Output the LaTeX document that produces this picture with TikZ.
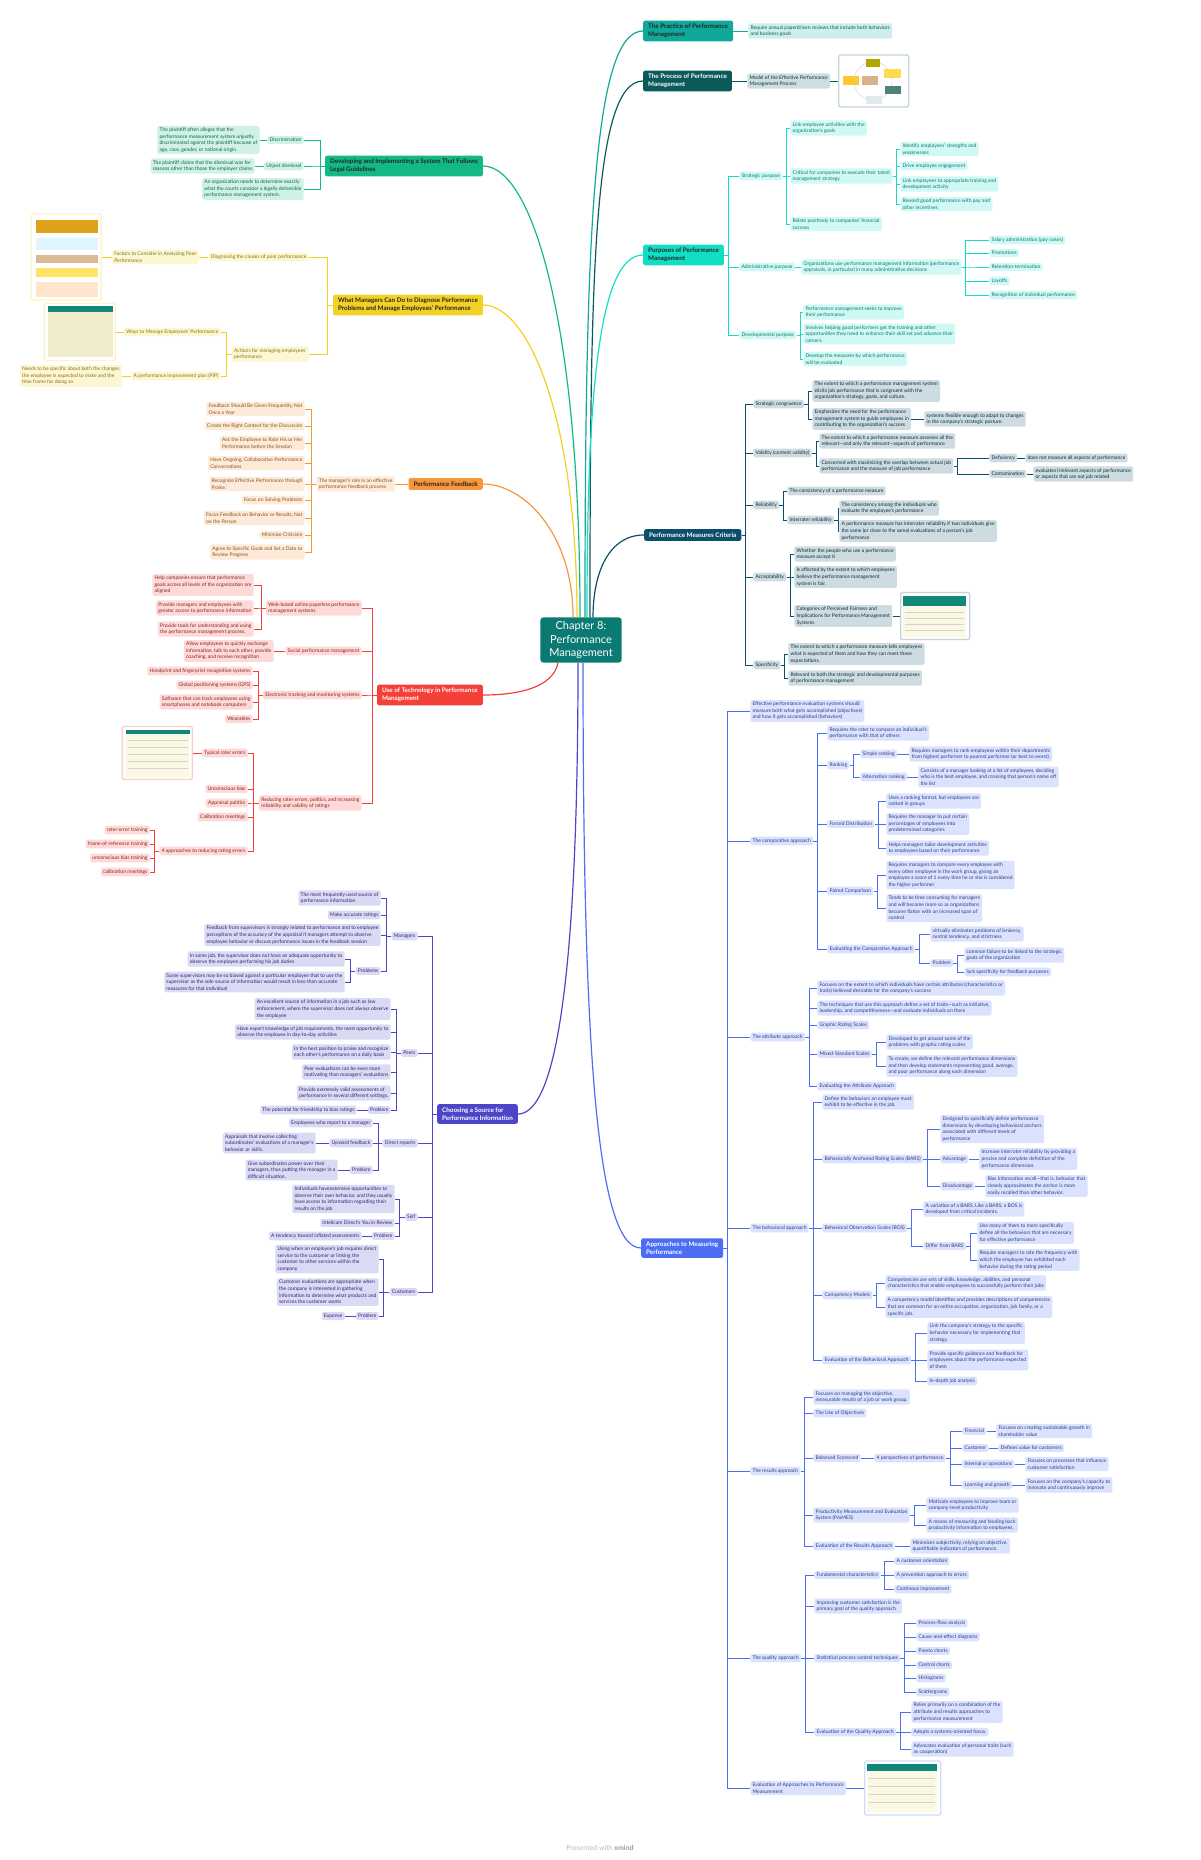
\documentclass[tikz,border=0pt]{standalone}
\usepackage{fontspec}
\setmainfont{Lato}
\usetikzlibrary{calc}

\definecolor{rootC}{HTML}{0B7A72}
\definecolor{pracC}{HTML}{0FA89A}
\definecolor{procC}{HTML}{0B5A5A}
\definecolor{purpC}{HTML}{12DEC6}
\definecolor{critC}{HTML}{0C4F6A}
\definecolor{apprC}{HTML}{4C6EF5}
\definecolor{legalC}{HTML}{12B886}
\definecolor{diagC}{HTML}{F2D024}
\definecolor{fbC}{HTML}{F7963A}
\definecolor{techC}{HTML}{F5403A}
\definecolor{srcC}{HTML}{4C45C8}
\definecolor{hdrC}{HTML}{11877A}
\definecolor{creamC}{HTML}{FBF8E4}

\newcommand{\leaffont}{\fontsize{5}{6.6}\selectfont}
\newcommand{\topicfont}{\fontsize{6.3}{7.8}\selectfont\bfseries}

\begin{document}
\begin{tikzpicture}[x=1pt, y=-1pt,
    root/.style={fill=rootC, text=white, rounded corners=3pt, font=\fontsize{11}{13.5}\selectfont, align=center, inner xsep=9pt, inner ysep=4pt},
    topic/.style={fill=#1, rounded corners=2pt, font=\topicfont, align=left, inner xsep=5pt, inner ysep=3.5pt},
    leaf/.style={fill=#1!20, text=#1!55!black, rounded corners=1.5pt, font=\leaffont, align=left, inner xsep=2.2pt, inner ysep=2pt},
    snap/.style={draw=#1!25, line width=1.4pt, fill=white, rounded corners=1.5pt, inner sep=0pt},
    limb/.style={line width=1.2pt, draw=#1}]
  \useasboundingbox (0,0) rectangle (1200,1860);

  % Central topic
  \node[root] (root) at (581,640) {Chapter 8:\\Performance\\Management};

  % Main topics on the right
  \begin{scope}[every node/.append style={anchor=west}]
    \node[topic=pracC, text=black!85] (prac) at (643,31) {The Practice of Performance\\Management};
    \node[topic=procC, text=white] (proc) at (643,81) {The Process of Performance\\Management};
    \node[topic=purpC, text=black!85] (purp) at (643,255) {Purposes of Performance\\Management};
    \node[topic=critC, text=white] (crit) at (644,535) {Performance Measures Criteria};
    \node[topic=apprC, text=white] (appr) at (641,1248) {Approaches to Measuring\\Performance};
  \end{scope}

  % Main topics on the left
  \begin{scope}[every node/.append style={anchor=east}]
    \node[topic=legalC, text=black!85] (legal) at (483,166) {Developing and Implementing a System That Follows\\Legal Guidelines};
    \node[topic=diagC, text=black!85] (diag) at (483,305) {What Managers Can Do to Diagnose Performance\\Problems and Manage Employees' Performance};
    \node[topic=fbC, text=black!85] (fb) at (483,484) {Performance Feedback};
    \node[topic=techC, text=white] (tech) at (483,695) {Use of Technology in Performance\\Management};
    \node[topic=srcC, text=white] (src) at (518,1114) {Choosing a Source for\\Performance Information};
  \end{scope}

  % Curves from the central topic
  \draw[limb=pracC] ($(root.north)+(4,0)$) .. controls +(0,-380) and +(-50,0) .. (prac.west);
  \draw[limb=procC] ($(root.north)+(9,0)$) .. controls +(0,-340) and +(-50,0) .. (proc.west);
  \draw[limb=purpC] ($(root.north)+(6,0)$) .. controls +(0,-220) and +(-45,0) .. (purp.west);
  \draw[limb=critC] ($(root.north)+(12,0)$) .. controls +(0,-45) and +(-35,0) .. (crit.west);
  \draw[limb=apprC] ($(root.south)+(2,0)$) .. controls +(0,380) and +(-45,0) .. (appr.west);
  \draw[limb=legalC] ($(root.north)+(-1,0)$) .. controls +(0,-290) and +(50,0) .. (legal.east);
  \draw[limb=diagC] ($(root.north)+(-4,0)$) .. controls +(0,-200) and +(45,0) .. (diag.east);
  \draw[limb=fbC] ($(root.north)+(-8,0)$) .. controls +(0,-85) and +(40,0) .. (fb.east);
  \draw[limb=techC] ($(root.south)+(-23,0)$) .. controls +(-5,25) and +(35,0) .. (tech.east);
  \draw[limb=srcC] ($(root.south)+(-3,0)$) .. controls +(0,300) and +(40,0) .. (src.east);

  % Practice and process
  \begin{scope}[color=pracC, line width=0.8pt, every node/.append style={anchor=west}]
    \node[leaf=pracC] (pr1) at (748,31) {Require annual paperdriven reviews that include both behaviors\\and business goals};
    \draw (prac.east) -- (pr1.west);
  \end{scope}
  \begin{scope}[color=procC, line width=0.8pt, every node/.append style={anchor=west}]
    \node[leaf=procC] (ps1) at (747,81) {Model of the Effective Performance\\Management Process};
    \node[snap=procC, minimum width=70pt, minimum height=52pt] (psimg) at (838,81) {};
    \draw (proc.east) -- (ps1.west);
    \draw (ps1.east) -- (psimg.west);
  \end{scope}
  % model picture
  \draw[gray!35, line width=0.4pt] (873,81) circle[radius=19pt];
  \fill[olive!70!yellow] (866,59) rectangle (880,67);
  \fill[orange!40!yellow!70] (884,69) rectangle (901,78);
  \fill[hdrC!45!gray] (885,86) rectangle (901,94);
  \fill[procC!12] (866,96) rectangle (882,104);
  \fill[orange!55!yellow!80] (843,76) rectangle (859,85);
  \fill[brown!60] (862,76) rectangle (878,85);

  % Purposes of performance management
  \begin{scope}[color=purpC, line width=0.8pt, every node/.append style={anchor=west}]
    \node[leaf=purpC] (pu1) at (739,176) {Strategic purpose};
    \node[leaf=purpC] (pu11) at (790,128) {Link employee activities with the\\organization's goals};
    \node[leaf=purpC] (pu12) at (790,176) {Critical for companies to execute their talent\\management strategy};
    \node[leaf=purpC] (pu121) at (900,149) {Identify employees' strengths and\\weaknesses};
    \node[leaf=purpC] (pu122) at (900,166) {Drive employee engagement};
    \node[leaf=purpC] (pu123) at (900,184) {Link employees to appropriate training and\\development activity};
    \node[leaf=purpC] (pu124) at (900,204) {Reward good performance with pay and\\other incentives};
    \node[leaf=purpC] (pu13) at (790,224) {Relate positively to companies' financial\\success};
    \node[leaf=purpC] (pu2) at (739,267) {Administrative purpose};
    \node[leaf=purpC] (pu21) at (801,267) {Organizations use performance management information (performance\\appraisals, in particular) in many administrative decisions};
    \foreach \y/\t [count=\i] in {240/Salary administration (pay raises), 253/Promotions, 267/Retention-termination, 281/Layoffs, 295/Recognition of individual performance}
      \node[leaf=purpC] (adm-\i) at (989,\y) {\t};
    \node[leaf=purpC] (pu3) at (739,335) {Developmental purpose};
    \node[leaf=purpC] (pu31) at (803,312) {Performance management seeks to improve\\their performance};
    \node[leaf=purpC] (pu32) at (803,334) {Involves helping good performers get the training and other\\opportunities they need to enhance their skill set and advance their\\careers.};
    \node[leaf=purpC] (pu33) at (803,359) {Develop the measures by which performance\\will be evaluated};

    \foreach \c in {pu1,pu2,pu3} \draw (purp.east) -- ++(4,0) |- (\c.west);
    \foreach \c in {pu11,pu12,pu13} \draw (pu1.east) -- ++(4,0) |- (\c.west);
    \foreach \c in {pu121,pu122,pu123,pu124} \draw (pu12.east) -- ++(4,0) |- (\c.west);
    \draw (pu2.east) -- (pu21.west);
    \foreach \i in {1,...,5} \draw (pu21.east) -- ++(4,0) |- (adm-\i.west);
    \foreach \c in {pu31,pu32,pu33} \draw (pu3.east) -- ++(4,0) |- (\c.west);
  \end{scope}

  % Performance measures criteria
  \begin{scope}[color=critC, line width=0.8pt, every node/.append style={anchor=west}]
    \node[leaf=critC] (cr1) at (753,404) {Strategic congruence};
    \node[leaf=critC] (cr11) at (812,391) {The extent to which a performance management system\\elicits job performance that is congruent with the\\organization's strategy, goals, and culture.};
    \node[leaf=critC] (cr12) at (812,419) {Emphasizes the need for the performance\\management system to guide employees in\\contributing to the organization's success};
    \node[leaf=critC] (cr121) at (924,419) {systems flexible enough to adapt to changes\\in the company's strategic posture.};
    \node[leaf=critC] (cr2) at (753,453) {Validity (content validity)};
    \node[leaf=critC] (cr21) at (819,441) {The extent to which a performance measure assesses all the\\relevant---and only the relevant---aspects of performance};
    \node[leaf=critC] (cr22) at (819,466) {Concerned with maximizing the overlap between actual job\\performance and the measure of job performance};
    \node[leaf=critC] (cr221) at (989,458) {Deficiency};
    \node[leaf=critC] (cr2211) at (1025,458) {does not measure all aspects of performance};
    \node[leaf=critC] (cr222) at (989,474) {Contamination};
    \node[leaf=critC] (cr2221) at (1033,474) {evaluates irrelevant aspects of performance\\or aspects that are not job related};
    \node[leaf=critC] (cr3) at (753,505) {Reliability};
    \node[leaf=critC] (cr31) at (787,491) {The consistency of a performance measure};
    \node[leaf=critC] (cr32) at (787,520) {Interrater reliability};
    \node[leaf=critC] (cr321) at (839,508) {The consistency among the individuals who\\evaluate the employee's performance};
    \node[leaf=critC] (cr322) at (839,531) {A performance measure has interrater reliability if two individuals give\\the same (or close to the same) evaluations of a person's job\\performance};
    \node[leaf=critC] (cr4) at (753,577) {Acceptability};
    \node[leaf=critC] (cr41) at (794,554) {Whether the people who use a performance\\measure accept it};
    \node[leaf=critC] (cr42) at (794,577) {Is affected by the extent to which employees\\believe the performance management\\system is fair.};
    \node[leaf=critC] (cr43) at (794,616) {Categories of Perceived Fairness and\\Implications for Performance Management\\Systems};
    \node[snap=critC, minimum width=69pt, minimum height=47pt] (crimg) at (900,616) {};
    \node[leaf=critC] (cr5) at (753,665) {Specificity};
    \node[leaf=critC] (cr51) at (788,654) {The extent to which a performance measure tells employees\\what is expected of them and how they can meet these\\expectations.};
    \node[leaf=critC] (cr52) at (788,678) {Relevant to both the strategic and developmental purposes\\of performance management};

    \foreach \c in {cr1,cr2,cr3,cr4,cr5} \draw (crit.east) -- ++(4,0) |- (\c.west);
    \foreach \c in {cr11,cr12} \draw (cr1.east) -- ++(4,0) |- (\c.west);
    \draw (cr12.east) -- (cr121.west);
    \foreach \c in {cr21,cr22} \draw (cr2.east) -- ++(4,0) |- (\c.west);
    \foreach \c in {cr221,cr222} \draw (cr22.east) -- ++(4,0) |- (\c.west);
    \draw (cr221.east) -- (cr2211.west);
    \draw (cr222.east) -- (cr2221.west);
    \foreach \c in {cr31,cr32} \draw (cr3.east) -- ++(4,0) |- (\c.west);
    \foreach \c in {cr321,cr322} \draw (cr32.east) -- ++(4,0) |- (\c.west);
    \foreach \c in {cr41,cr42,cr43} \draw (cr4.east) -- ++(4,0) |- (\c.west);
    \draw (cr43.east) -- (crimg.west);
    \foreach \c in {cr51,cr52} \draw (cr5.east) -- ++(4,0) |- (\c.west);
  \end{scope}
  % fairness table picture
  \fill[hdrC] (903,596) rectangle (966,606);
  \fill[creamC] (903,606) rectangle (966,637);
  \foreach \y in {612,618,624,630} \draw[gray!35, line width=0.3pt] (905,\y) -- (964,\y);

  % Approaches to measuring performance
  \begin{scope}[color=apprC, line width=0.8pt, every node/.append style={anchor=west}]
    \node[leaf=apprC] (ap1) at (750,711) {Effective performance evaluation systems should\\measure both what gets accomplished (objectives)\\and how it gets accomplished (behaviors)};
    % comparative approach
    \node[leaf=apprC] (ap2) at (750,841) {The comparative approach};
    \node[leaf=apprC] (ap21) at (827,733) {Requires the rater to compare an individual's\\performance with that of others};
    \node[leaf=apprC] (ap22) at (827,765) {Ranking};
    \node[leaf=apprC] (ap221) at (860,754) {Simple ranking};
    \node[leaf=apprC] (ap2211) at (909,754) {Requires managers to rank employees within their departments\\from highest performer to poorest performer (or best to worst)};
    \node[leaf=apprC] (ap222) at (860,777) {Alternation ranking};
    \node[leaf=apprC] (ap2221) at (918,777) {Consists of a manager looking at a list of employees, deciding\\who is the best employee, and crossing that person's name off\\the list};
    \node[leaf=apprC] (ap23) at (827,824) {Forced Distribution};
    \node[leaf=apprC] (ap231) at (886,801) {Uses a ranking format, but employees are\\ranked in groups};
    \node[leaf=apprC] (ap232) at (886,824) {Requires the manager to put certain\\percentages of employees into\\predetermined categories};
    \node[leaf=apprC] (ap233) at (886,848) {Helps managers tailor development activities\\to employees based on their performance};
    \node[leaf=apprC] (ap24) at (827,891) {Paired Comparison};
    \node[leaf=apprC] (ap241) at (886,875) {Requires managers to compare every employee with\\every other employee in the work group, giving an\\employee a score of 1 every time he or she is considered\\the higher performer};
    \node[leaf=apprC] (ap242) at (886,908) {Tends to be time consuming for managers\\and will become more so as organizations\\become flatter with an increased span of\\control};
    \node[leaf=apprC] (ap25) at (827,949) {Evaluating the Comparative Approach};
    \node[leaf=apprC] (ap251) at (930,934) {virtually eliminates problems of leniency,\\central tendency, and strictness};
    \node[leaf=apprC] (ap252) at (930,963) {Problem};
    \node[leaf=apprC] (ap2521) at (964,955) {common failure to be linked to the strategic\\goals of the organization};
    \node[leaf=apprC] (ap2522) at (964,972) {lack specificity for feedback purposes};
    % attribute approach
    \node[leaf=apprC] (ap3) at (750,1037) {The attribute approach};
    \node[leaf=apprC] (ap31) at (817,988) {Focuses on the extent to which individuals have certain attributes (characteristics or\\traits) believed desirable for the company's success};
    \node[leaf=apprC] (ap32) at (817,1008) {The techniques that use this approach define a set of traits---such as initiative,\\leadership, and competitiveness---and evaluate individuals on them};
    \node[leaf=apprC] (ap33) at (817,1025) {Graphic Rating Scales};
    \node[leaf=apprC] (ap34) at (817,1054) {Mixed-Standard Scales};
    \node[leaf=apprC] (ap341) at (886,1042) {Developed to get around some of the\\problems with graphic rating scales};
    \node[leaf=apprC] (ap342) at (886,1066) {To create, we define the relevant performance dimensions\\and then develop statements representing good, average,\\and poor performance along each dimension};
    \node[leaf=apprC] (ap35) at (817,1086) {Evaluating the Attribute Approach};
    % behavioral approach
    \node[leaf=apprC] (ap4) at (750,1228) {The behavioral approach};
    \node[leaf=apprC] (ap41) at (822,1102) {Define the behaviors an employee must\\exhibit to be effective in the job.};
    \node[leaf=apprC] (ap42) at (822,1159) {Behaviorally Anchored Rating Scales (BARS)};
    \node[leaf=apprC] (ap421) at (940,1129) {Designed to specifically define performance\\dimensions by developing behavioral anchors\\associated with different levels of\\performance};
    \node[leaf=apprC] (ap422) at (940,1159) {Advantage};
    \node[leaf=apprC] (ap4221) at (979,1159) {Increase interrater reliability by providing a\\precise and complete definition of the\\performance dimension.};
    \node[leaf=apprC] (ap423) at (940,1186) {Disadvantage};
    \node[leaf=apprC] (ap4231) at (985,1186) {Bias information recall---that is, behavior that\\closely approximates the anchor is more\\easily recalled than other behavior.};
    \node[leaf=apprC] (ap43) at (822,1228) {Behavioral Observation Scales (BOS)};
    \node[leaf=apprC] (ap431) at (923,1209) {A variation of a BARS. Like a BARS, a BOS is\\developed from critical incidents.};
    \node[leaf=apprC] (ap432) at (923,1246) {Differ from BARS};
    \node[leaf=apprC] (ap4321) at (977,1233) {Use many of them to more specifically\\define all the behaviors that are necessary\\for effective performance};
    \node[leaf=apprC] (ap4322) at (977,1260) {Require managers to rate the frequency with\\which the employee has exhibited each\\behavior during the rating period};
    \node[leaf=apprC] (ap44) at (822,1295) {Competency Models};
    \node[leaf=apprC] (ap441) at (885,1283) {Competencies are sets of skills, knowledge, abilities, and personal\\characteristics that enable employees to successfully perform their jobs};
    \node[leaf=apprC] (ap442) at (885,1307) {A competency model identifies and provides descriptions of competencies\\that are common for an entire occupation, organization, job family, or a\\specific job.};
    \node[leaf=apprC] (ap45) at (822,1360) {Evaluation of the Behavioral Approach};
    \node[leaf=apprC] (ap451) at (927,1333) {Link the company's strategy to the specific\\behavior necessary for implementing that\\strategy};
    \node[leaf=apprC] (ap452) at (927,1360) {Provide specific guidance and feedback for\\employees about the performance expected\\of them};
    \node[leaf=apprC] (ap453) at (927,1381) {In-depth job analysis};
    % results approach
    \node[leaf=apprC] (ap5) at (750,1471) {The results approach};
    \node[leaf=apprC] (ap51) at (813,1397) {Focuses on managing the objective,\\measurable results of a job or work group.};
    \node[leaf=apprC] (ap52) at (813,1413) {The Use of Objectives};
    \node[leaf=apprC] (ap53) at (813,1458) {Balanced Scorecard};
    \node[leaf=apprC] (ap531) at (874,1458) {4 perspectives of performance};
    \node[leaf=apprC] (bsc-1) at (962,1431) {Financial};
    \node[leaf=apprC] (bsc-2) at (962,1448) {Customer};
    \node[leaf=apprC] (bsc-3) at (962,1464) {Internal or operations};
    \node[leaf=apprC] (bsc-4) at (962,1485) {Learning and growth};
    \node[leaf=apprC] (bsd-1) at (996,1431) {Focuses on creating sustainable growth in\\shareholder value};
    \node[leaf=apprC] (bsd-2) at (998,1448) {Defines value for customers};
    \node[leaf=apprC] (bsd-3) at (1025,1464) {Focuses on processes that influence\\customer satisfaction};
    \node[leaf=apprC] (bsd-4) at (1025,1485) {Focuses on the company's capacity to\\innovate and continuously improve};
    \node[leaf=apprC] (ap54) at (813,1515) {Productivity Measurement and Evaluation\\System (ProMES)};
    \node[leaf=apprC] (ap541) at (926,1505) {Motivate employees to improve team or\\company-level productivity};
    \node[leaf=apprC] (ap542) at (926,1525) {A means of measuring and feeding back\\productivity information to employees.};
    \node[leaf=apprC] (ap55) at (813,1546) {Evaluation of the Results Approach};
    \node[leaf=apprC] (ap551) at (910,1546) {Minimizes subjectivity, relying on objective,\\quantifiable indicators of performance.};
    % quality approach
    \node[leaf=apprC] (ap6) at (750,1658) {The quality approach};
    \node[leaf=apprC] (ap61) at (814,1575) {Fundamental characteristics};
    \foreach \y/\t [count=\i] in {1561/A customer orientation, 1575/A prevention approach to errors, 1589/Continous improvement}
      \node[leaf=apprC] (fund-\i) at (894,\y) {\t};
    \node[leaf=apprC] (ap62) at (814,1606) {Improving customer satisfaction is the\\primary goal of the quality approach};
    \node[leaf=apprC] (ap63) at (814,1658) {Statistical process control techniques};
    \foreach \y/\t [count=\i] in {1623/Process-flow analysis, 1637/Cause-and-effect diagrams, 1651/Pareto charts, 1665/Control charts, 1678/Histograms, 1692/Scattergrams}
      \node[leaf=apprC] (spc-\i) at (916,\y) {\t};
    \node[leaf=apprC] (ap64) at (814,1732) {Evaluation of the Quality Approach};
    \node[leaf=apprC] (ap641) at (911,1712) {Relies primarily on a combination of the\\attribute and results approaches to\\performance measurement};
    \node[leaf=apprC] (ap642) at (911,1732) {Adopts a systems-oriented focus.};
    \node[leaf=apprC] (ap643) at (911,1749) {Advocates evaluation of personal traits (such\\as cooperation)};
    \node[leaf=apprC] (ap7) at (750,1788) {Evaluation of Approaches to Performance\\Measurement};
    \node[snap=apprC, minimum width=76pt, minimum height=54pt] (apimg) at (864,1788) {};

    \foreach \c in {ap1,ap2,ap3,ap4,ap5,ap6,ap7} \draw (appr.east) -- ++(4,0) |- (\c.west);
    \foreach \c in {ap21,ap22,ap23,ap24,ap25} \draw (ap2.east) -- ++(4,0) |- (\c.west);
    \foreach \c in {ap221,ap222} \draw (ap22.east) -- ++(4,0) |- (\c.west);
    \draw (ap221.east) -- (ap2211.west);
    \draw (ap222.east) -- (ap2221.west);
    \foreach \c in {ap231,ap232,ap233} \draw (ap23.east) -- ++(4,0) |- (\c.west);
    \foreach \c in {ap241,ap242} \draw (ap24.east) -- ++(4,0) |- (\c.west);
    \foreach \c in {ap251,ap252} \draw (ap25.east) -- ++(4,0) |- (\c.west);
    \foreach \c in {ap2521,ap2522} \draw (ap252.east) -- ++(4,0) |- (\c.west);
    \foreach \c in {ap31,ap32,ap33,ap34,ap35} \draw (ap3.east) -- ++(4,0) |- (\c.west);
    \foreach \c in {ap341,ap342} \draw (ap34.east) -- ++(4,0) |- (\c.west);
    \foreach \c in {ap41,ap42,ap43,ap44,ap45} \draw (ap4.east) -- ++(4,0) |- (\c.west);
    \foreach \c in {ap421,ap422,ap423} \draw (ap42.east) -- ++(4,0) |- (\c.west);
    \draw (ap422.east) -- (ap4221.west);
    \draw (ap423.east) -- (ap4231.west);
    \foreach \c in {ap431,ap432} \draw (ap43.east) -- ++(4,0) |- (\c.west);
    \foreach \c in {ap4321,ap4322} \draw (ap432.east) -- ++(4,0) |- (\c.west);
    \foreach \c in {ap441,ap442} \draw (ap44.east) -- ++(4,0) |- (\c.west);
    \foreach \c in {ap451,ap452,ap453} \draw (ap45.east) -- ++(4,0) |- (\c.west);
    \foreach \c in {ap51,ap52,ap53,ap54,ap55} \draw (ap5.east) -- ++(4,0) |- (\c.west);
    \draw (ap53.east) -- (ap531.west);
    \foreach \i in {1,...,4}{
        \draw (ap531.east) -- ++(4,0) |- (bsc-\i.west);
        \draw (bsc-\i.east) -- (bsd-\i.west);
      }
    \foreach \c in {ap541,ap542} \draw (ap54.east) -- ++(4,0) |- (\c.west);
    \draw (ap55.east) -- (ap551.west);
    \foreach \c in {ap61,ap62,ap63,ap64} \draw (ap6.east) -- ++(4,0) |- (\c.west);
    \foreach \i in {1,...,3} \draw (ap61.east) -- ++(4,0) |- (fund-\i.west);
    \foreach \i in {1,...,6} \draw (ap63.east) -- ++(4,0) |- (spc-\i.west);
    \foreach \c in {ap641,ap642,ap643} \draw (ap64.east) -- ++(4,0) |- (\c.west);
    \draw (ap7.east) -- (apimg.west);
  \end{scope}
  % comparison table picture
  \fill[hdrC] (867,1764) rectangle (937,1771);
  \fill[creamC] (867,1771) rectangle (937,1812);
  \foreach \y in {1778,1786,1794,1802} \draw[gray!35, line width=0.3pt] (869,\y) -- (935,\y);

  % Legal guidelines
  \begin{scope}[color=legalC, line width=0.8pt, every node/.append style={anchor=east}]
    \node[leaf=legalC] (lg1) at (304,140) {Discrimination};
    \node[leaf=legalC] (lg11) at (260,140) {The plaintiff often alleges that the\\performance measurement system unjustly\\discriminated against the plaintiff because of\\age, race, gender, or national origin};
    \node[leaf=legalC] (lg2) at (304,166) {Unjust dismissal};
    \node[leaf=legalC] (lg21) at (255,166) {The plaintiff claims that the dismissal was for\\reasons other than those the employer claims};
    \node[leaf=legalC] (lg3) at (304,189) {An organization needs to determine exactly\\what the courts consider a legally defensible\\performance management system.};
    \foreach \c in {lg1,lg2,lg3} \draw (legal.west) -- ++(-5,0) |- (\c.east);
    \draw (lg1.west) -- (lg11.east);
    \draw (lg2.west) -- (lg21.east);
  \end{scope}

  % Diagnosing and managing performance
  \begin{scope}[color=diagC, line width=0.8pt, every node/.append style={anchor=east}]
    \node[leaf=diagC] (dg1) at (309,257) {Diagnosing the causes of poor performance};
    \node[leaf=diagC] (dg11) at (199,257) {Factors to Consider in Analyzing Poor\\Performance};
    \node[snap=diagC, minimum width=70pt, minimum height=86pt] (dgimg1) at (102,257) {};
    \node[leaf=diagC] (dg2) at (309,354) {Actions for managing employees'\\performance};
    \node[leaf=diagC] (dg21) at (221,332) {Ways to Manage Employees' Performance};
    \node[snap=diagC, minimum width=71pt, minimum height=57pt] (dgimg2) at (116,332) {};
    \node[leaf=diagC] (dg22) at (221,376) {A performance improvement plan (PIP)};
    \node[leaf=diagC] (dg221) at (122,376) {Needs to be specific about both the changes\\the employee is expected to make and the\\time frame for doing so};
    \foreach \c in {dg1,dg2} \draw (diag.west) -- ++(-5,0) |- (\c.east);
    \draw (dg1.west) -- (dg11.east);
    \draw (dg11.west) -- (dgimg1.east);
    \foreach \c in {dg21,dg22} \draw (dg2.west) -- ++(-5,0) |- (\c.east);
    \draw (dg21.west) -- (dgimg2.east);
    \draw (dg22.west) -- (dg221.east);
  \end{scope}
  % factors and ways pictures
  \fill[orange!60!yellow!85!black!90] (36,220) rectangle (98,233);
  \fill[cyan!12] (36,238) rectangle (98,250);
  \fill[brown!55] (36,255) rectangle (98,263);
  \fill[orange!35!yellow!60] (36,268) rectangle (98,277);
  \fill[orange!20] (36,282) rectangle (98,297);
  \fill[hdrC] (48,306) rectangle (113,312);
  \fill[olive!15] (48,312) rectangle (113,357);

  % Performance feedback
  \begin{scope}[color=fbC, line width=0.8pt, every node/.append style={anchor=east}]
    \node[leaf=fbC] (fb1) at (395,484) {The manager's role in an effective\\performance feedback process};
    \foreach \y/\t [count=\i] in {409/{Feedback Should Be Given Frequently, Not\\Once a Year},
        426/{Create the Right Context for the Discussion},
        443/{Ask the Employee to Rate His or Her\\Performance before the Session},
        463/{Have Ongoing, Collaborative Performance\\Conversations},
        484/{Recognize Effective Performance through\\Praise.},
        500/{Focus on Solving Problems},
        518/{Focus Feedback on Behavior or Results, Not\\on the Person},
        535/{Minimize Criticism},
        552/{Agree to Specific Goals and Set a Date to\\Review Progress}}
      \node[leaf=fbC] (tip-\i) at (305,\y) {\t};
    \draw (fb.west) -- (fb1.east);
    \foreach \i in {1,...,9} \draw (fb1.west) -- ++(-5,0) |- (tip-\i.east);
  \end{scope}

  % Technology
  \begin{scope}[color=techC, line width=0.8pt, every node/.append style={anchor=east}]
    \node[leaf=techC] (te1) at (362,608) {Web-based online paperless performance\\management systems};
    \node[leaf=techC] (te11) at (254,585) {Help companies ensure that performance\\goals across all levels of the organization are\\aligned};
    \node[leaf=techC] (te12) at (254,608) {Provide managers and employees with\\greater access to performance information};
    \node[leaf=techC] (te13) at (254,629) {Provide tools for understanding and using\\the performance management process.};
    \node[leaf=techC] (te2) at (362,651) {Social performance management};
    \node[leaf=techC] (te21) at (274,651) {Allow employees to quickly exchange\\information, talk to each other, provide\\coaching, and receive recognition};
    \node[leaf=techC] (te3) at (362,695) {Electronic tracking and monitoring systems};
    \node[leaf=techC] (te31) at (253,671) {Handprint and fingerprint recognition systems};
    \node[leaf=techC] (te32) at (253,685) {Global positioning systems (GPS)};
    \node[leaf=techC] (te33) at (253,702) {Software that can track employees using\\smartphones and notebook computers};
    \node[leaf=techC] (te34) at (253,719) {Wearables};
    \node[leaf=techC] (te4) at (362,803) {Reducing rater errors, politics, and increasing\\reliability and validity of ratings};
    \node[leaf=techC] (te41) at (248,753) {Typical rater errors};
    \node[snap=techC, minimum width=70pt, minimum height=53pt] (teimg) at (193,753) {};
    \node[leaf=techC] (te42) at (248,789) {Unconscious bias};
    \node[leaf=techC] (te43) at (248,803) {Appraisal politics};
    \node[leaf=techC] (te44) at (248,817) {Calibration meetings};
    \node[leaf=techC] (te45) at (248,851) {4 approaches to reducing rating errors};
    \foreach \y/\t [count=\i] in {830/rater error training, 844/frame-of-reference training, 858/unconscious bias training, 872/calibration meetings}
      \node[leaf=techC] (fix-\i) at (150,\y) {\t};
    \foreach \c in {te1,te2,te3,te4} \draw (tech.west) -- ++(-5,0) |- (\c.east);
    \foreach \c in {te11,te12,te13} \draw (te1.west) -- ++(-4,0) |- (\c.east);
    \draw (te2.west) -- (te21.east);
    \foreach \c in {te31,te32,te33,te34} \draw (te3.west) -- ++(-4,0) |- (\c.east);
    \foreach \c in {te41,te42,te43,te44,te45} \draw (te4.west) -- ++(-5,0) |- (\c.east);
    \draw (te41.west) -- (teimg.east);
    \foreach \i in {1,...,4} \draw (te45.west) -- ++(-5,0) |- (fix-\i.east);
  \end{scope}
  % rater errors picture
  \fill[hdrC] (126,730) rectangle (190,734);
  \fill[creamC] (126,734) rectangle (190,777);
  \foreach \y in {740,747,754,761,768} \draw[gray!35, line width=0.3pt] (128,\y) -- (188,\y);

  % Sources of performance information
  \begin{scope}[color=srcC, line width=0.8pt, every node/.append style={anchor=east}]
    \node[leaf=srcC] (sc1) at (418,936) {Managers};
    \node[leaf=srcC] (sc11) at (381,898) {The most frequently used source of\\performance information};
    \node[leaf=srcC] (sc12) at (381,915) {Make accurate ratings};
    \node[leaf=srcC] (sc13) at (381,935) {Feedback from supervisors is strongly related to performance and to employee\\perceptions of the accuracy of the appraisal if managers attempt to observe\\employee behavior or discuss performance issues in the feedback session};
    \node[leaf=srcC] (sc14) at (381,971) {Problems};
    \node[leaf=srcC] (sc141) at (345,959) {In some job, the supervisor does not have an adequate opportunity to\\observe the employee performing his job duties};
    \node[leaf=srcC] (sc142) at (345,982) {Some supervisors may be so biased against a particular employee that to use the\\supervisor as the sole source of information would result in less-than-accurate\\measures for that individual};
    \node[leaf=srcC] (sc2) at (418,1053) {Peers};
    \node[leaf=srcC] (sc21) at (391,1009) {An excellent source of information in a job such as law\\enforcement, where the supervisor does not always observe\\the employee};
    \node[leaf=srcC] (sc22) at (391,1032) {Have expert knowledge of job requirements, the most opportunity to\\observe the employee in day-to-day activities};
    \node[leaf=srcC] (sc23) at (391,1052) {In the best position to praise and recognize\\each other's performance on a daily basis};
    \node[leaf=srcC] (sc24) at (391,1072) {Peer evaluations can be even more\\motivating than managers' evaluations};
    \node[leaf=srcC] (sc25) at (391,1093) {Provide extremely valid assessments of\\performance in several different settings.};
    \node[leaf=srcC] (sc26) at (391,1110) {Problem};
    \node[leaf=srcC] (sc261) at (357,1110) {The potential for friendship to bias ratings};
    \node[leaf=srcC] (sc3) at (418,1143) {Direct reports};
    \node[leaf=srcC] (sc31) at (373,1123) {Employees who report to a manager};
    \node[leaf=srcC] (sc32) at (373,1143) {Upward feedback};
    \node[leaf=srcC] (sc321) at (316,1143) {Appraisals that involve collecting\\subordinates' evaluations of a manager's\\behavior or skills.};
    \node[leaf=srcC] (sc33) at (373,1170) {Problem};
    \node[leaf=srcC] (sc331) at (338,1170) {Give subordinates power over their\\managers, thus putting the manager in a\\difficult situation.};
    \node[leaf=srcC] (sc4) at (418,1217) {Self};
    \node[leaf=srcC] (sc41) at (395,1199) {Individuals haveextensive opportunities to\\observe their own behavior, and they usually\\have access to information regarding their\\results on the job};
    \node[leaf=srcC] (sc42) at (395,1223) {Intelicare Direct's You in Review};
    \node[leaf=srcC] (sc43) at (395,1236) {Problem};
    \node[leaf=srcC] (sc431) at (362,1236) {A tendency toward inflated assessments};
    \node[leaf=srcC] (sc5) at (418,1292) {Customers};
    \node[leaf=srcC] (sc51) at (379,1259) {Using when an employee's job requires direct\\service to the customer or linking the\\customer to other services within the\\company};
    \node[leaf=srcC] (sc52) at (379,1292) {Customer evaluations are appropriate when\\the company is interested in gathering\\information to determine what products and\\services the customer wants};
    \node[leaf=srcC] (sc53) at (379,1316) {Problem};
    \node[leaf=srcC] (sc531) at (345,1316) {Expense};

    \foreach \c in {sc1,sc2,sc3,sc4,sc5} \draw (src.west) -- ++(-5,0) |- (\c.east);
    \foreach \c in {sc11,sc12,sc13,sc14} \draw (sc1.west) -- ++(-5,0) |- (\c.east);
    \foreach \c in {sc141,sc142} \draw (sc14.west) -- ++(-5,0) |- (\c.east);
    \foreach \c in {sc21,sc22,sc23,sc24,sc25,sc26} \draw (sc2.west) -- ++(-4,0) |- (\c.east);
    \draw (sc26.west) -- (sc261.east);
    \foreach \c in {sc31,sc32,sc33} \draw (sc3.west) -- ++(-4,0) |- (\c.east);
    \draw (sc32.west) -- (sc321.east);
    \draw (sc33.west) -- (sc331.east);
    \foreach \c in {sc41,sc42,sc43} \draw (sc4.west) -- ++(-5,0) |- (\c.east);
    \draw (sc43.west) -- (sc431.east);
    \foreach \c in {sc51,sc52,sc53} \draw (sc5.west) -- ++(-6,0) |- (\c.east);
    \draw (sc53.west) -- (sc531.east);
  \end{scope}

  % Footer
  \node[font=\fontsize{7}{8}\selectfont, text=gray!55] (credit) at (600,1848) {Presented with \textcolor{gray!80}{\textbf{xmind}}};
\end{tikzpicture}
\end{document}
